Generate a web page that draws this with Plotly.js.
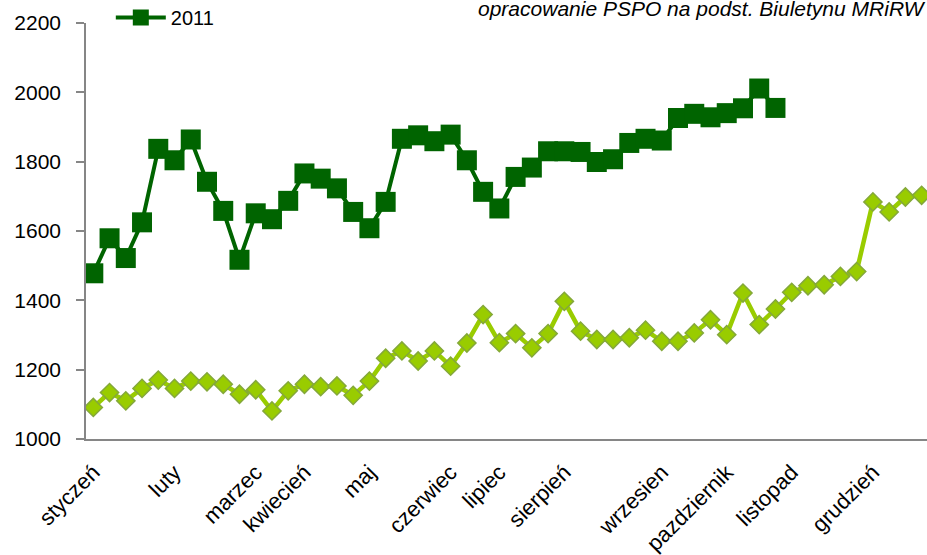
<!DOCTYPE html>
<html>
<head>
<meta charset="utf-8">
<script src="https://cdn.plot.ly/plotly-3.0.1.min.js"></script>
<style>
  html, body { margin: 0; padding: 0; background: #fff; }
  #plotArea { width: 927px; height: 555px; }
</style>
</head>
<body>
<div id="plotArea"></div>
<script>
// weekly prices, 52 weeks (index 0..51)
var weeks = [];
for (var i = 0; i < 52; i++) weeks.push(i);

// 2011 - dark green squares (43 weeks available)
var values2011 = [1478, 1579, 1522, 1625, 1837, 1804, 1864, 1742, 1658, 1517,
                  1651, 1634, 1687, 1766, 1751, 1723, 1655, 1608, 1684, 1866,
                  1876, 1859, 1878, 1804, 1713, 1665, 1756, 1783, 1830, 1830,
                  1828, 1799, 1807, 1854, 1866, 1861, 1926, 1938, 1928, 1940,
                  1954, 2011, 1955];

// previous year - light green diamonds
var values2010 = [1091, 1134, 1110, 1146, 1170, 1146, 1167, 1165, 1158, 1129,
                  1142, 1081, 1139, 1158, 1151, 1153, 1126, 1167, 1233, 1254,
                  1225, 1254, 1210, 1277, 1359, 1278, 1304, 1263, 1304, 1397,
                  1311, 1287, 1287, 1292, 1314, 1282, 1282, 1306, 1344, 1301,
                  1421, 1330, 1375, 1423, 1442, 1445, 1469, 1483, 1684, 1655,
                  1698, 1703];

// month labels and the week they sit on
var monthWeeks = [0, 5, 10, 13, 17, 22, 25, 29, 35, 39, 43, 48];
var monthNames = ["styczeń", "luty", "marzec", "kwiecień", "maj", "czerwiec",
                  "lipiec", "sierpień", "wrzesien", "pazdziernik", "listopad", "grudzień"];

var yTicks = [1000, 1200, 1400, 1600, 1800, 2000, 2200];

var FONT = "'Liberation Sans', Arial, sans-serif";

var trace2010 = {
    x: weeks,
    y: values2010,
    name: "2010",
    type: "scatter",
    mode: "lines+markers",
    showlegend: false,
    line: {color: "#99cc00", width: 4.5},
    marker: {symbol: "diamond", size: 14, color: "#99cc00",
             line: {color: "#84a83a", width: 1.5}}
};

var trace2011 = {
    x: weeks.slice(0, values2011.length),
    y: values2011,
    name: "2011",
    type: "scatter",
    mode: "lines+markers",
    line: {color: "#006400", width: 4},
    marker: {symbol: "square", size: 20, color: "#006400"}
};

var layout = {
    width: 927,
    height: 555,
    margin: {l: 86, r: 0, t: 23, b: 116, autoexpand: false},
    paper_bgcolor: "#ffffff",
    plot_bgcolor: "#ffffff",
    font: {family: FONT, size: 20, color: "#000"},
    showlegend: true,
    legend: {
        x: 0.0295, y: 1.06, xanchor: "left", yanchor: "top",
        bgcolor: "rgba(0,0,0,0)",
        font: {family: FONT, size: 20, color: "#000"},
        itemwidth: 50
    },
    xaxis: {
        range: [-0.45, 51.33],
        tickmode: "array",
        tickvals: monthWeeks,
        ticktext: monthNames,
        tickangle: -45,
        ticks: "",
        ticklabelstandoff: 10,
        automargin: false,
        showgrid: false,
        zeroline: false,
        showline: true,
        linecolor: "#868686",
        linewidth: 1.5,
        tickfont: {family: FONT, size: 22, color: "#000"}
    },
    yaxis: {
        range: [1000, 2200],
        tickmode: "array",
        tickvals: yTicks,
        ticks: "outside",
        ticklen: 8,
        tickcolor: "#868686",
        tickwidth: 1.5,
        ticklabelstandoff: 11,
        automargin: false,
        showgrid: false,
        zeroline: false,
        showline: true,
        linecolor: "#868686",
        linewidth: 1.5,
        tickfont: {family: FONT, size: 21, color: "#000"}
    },
    annotations: [{
        text: "<i>opracowanie PSPO na podst. Biuletynu MRiRW</i>",
        xref: "paper", yref: "paper",
        x: 1, y: 1.036, xanchor: "right", yanchor: "middle",
        xshift: 1,
        showarrow: false,
        font: {family: FONT, size: 21, color: "#000"}
    }]
};

Plotly.newPlot("plotArea", [trace2010, trace2011], layout, {displayModeBar: false});
</script>
</body>
</html>
